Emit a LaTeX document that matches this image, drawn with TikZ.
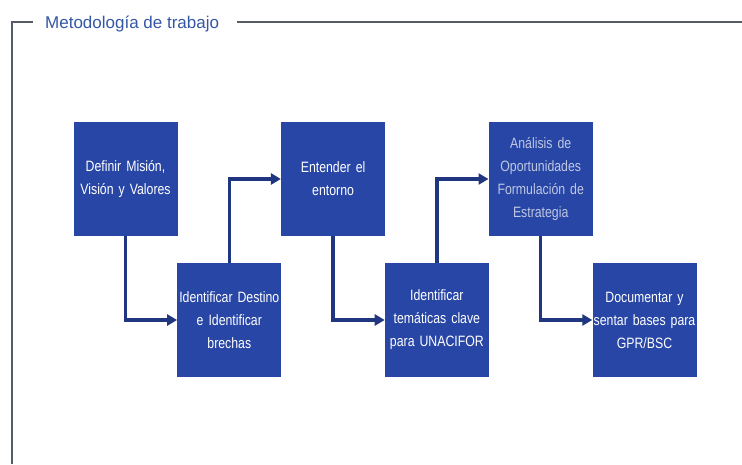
\documentclass[tikz,border=0pt]{standalone}
\usepackage{fontspec}
\usetikzlibrary{arrows.meta}
\newfontfamily\titlefont{Liberation Sans}
\newfontfamily\boxfont[FakeStretch=0.82]{Liberation Sans}
\definecolor{boxblue}{RGB}{40,70,165}
\definecolor{lineblue}{RGB}{33,54,128}
\definecolor{titleblue}{RGB}{52,86,166}
\definecolor{framegray}{RGB}{85,92,102}

\begin{document}
\begin{tikzpicture}[x=1pt, y=-1pt,
    stepbox/.style={fill=boxblue, text=white, minimum width=104pt, minimum height=114pt,
      inner sep=0pt, text width=103pt, align=center,
      font=\boxfont\fontsize{15}{23}\selectfont},
    conn/.style={draw=lineblue, line width=3.4pt,
      -{Triangle[length=10pt,width=11pt]}},
    frameline/.style={draw=framegray, line width=1.2pt}]
  \useasboundingbox (0,0) rectangle (742,464);

  % ============ FRAME AND TITLE ============
  \node[anchor=base west, inner sep=0pt, text=titleblue,
    font=\titlefont\fontsize{17}{20}\selectfont] (title) at (45,28)
    {Metodología de trabajo};
  \draw[frameline] (12,464) -- (12,22) -- (33,22);
  \draw[frameline] (237,22) -- (742,22);

  % ============ STEPS ============
  % upper row at y=179, lower row at y=320
  \node[stepbox] (mision)    at (125.5,179) {Definir Misión,\\Visión y Valores};
  \node[stepbox] (destino)   at (229.3,320) {Identificar Destino\\e Identificar\\brechas};
  \node[stepbox] (entorno)   at (333.1,179) {Entender el\\entorno};
  \node[stepbox] (tematicas) at (436.9,320) {Identificar\\temáticas clave\\para UNACIFOR};
  \node[stepbox, text=white!70!boxblue] (analisis) at (540.7,179)
    {Análisis de\\Oportunidades\\Formulación de\\Estrategia};
  \node[stepbox] (documentar) at (644.5,320) {Documentar y\\sentar bases para\\GPR/BSC};

  % ============ CONNECTORS ============
  \draw[conn] (mision.south) |- (destino.west);
  \draw[conn] (destino.north) |- (entorno.west);
  \draw[conn] (entorno.south) |- (tematicas.west);
  \draw[conn] (tematicas.north) |- (analisis.west);
  \draw[conn] (analisis.south) |- (documentar.west);
\end{tikzpicture}
\end{document}
